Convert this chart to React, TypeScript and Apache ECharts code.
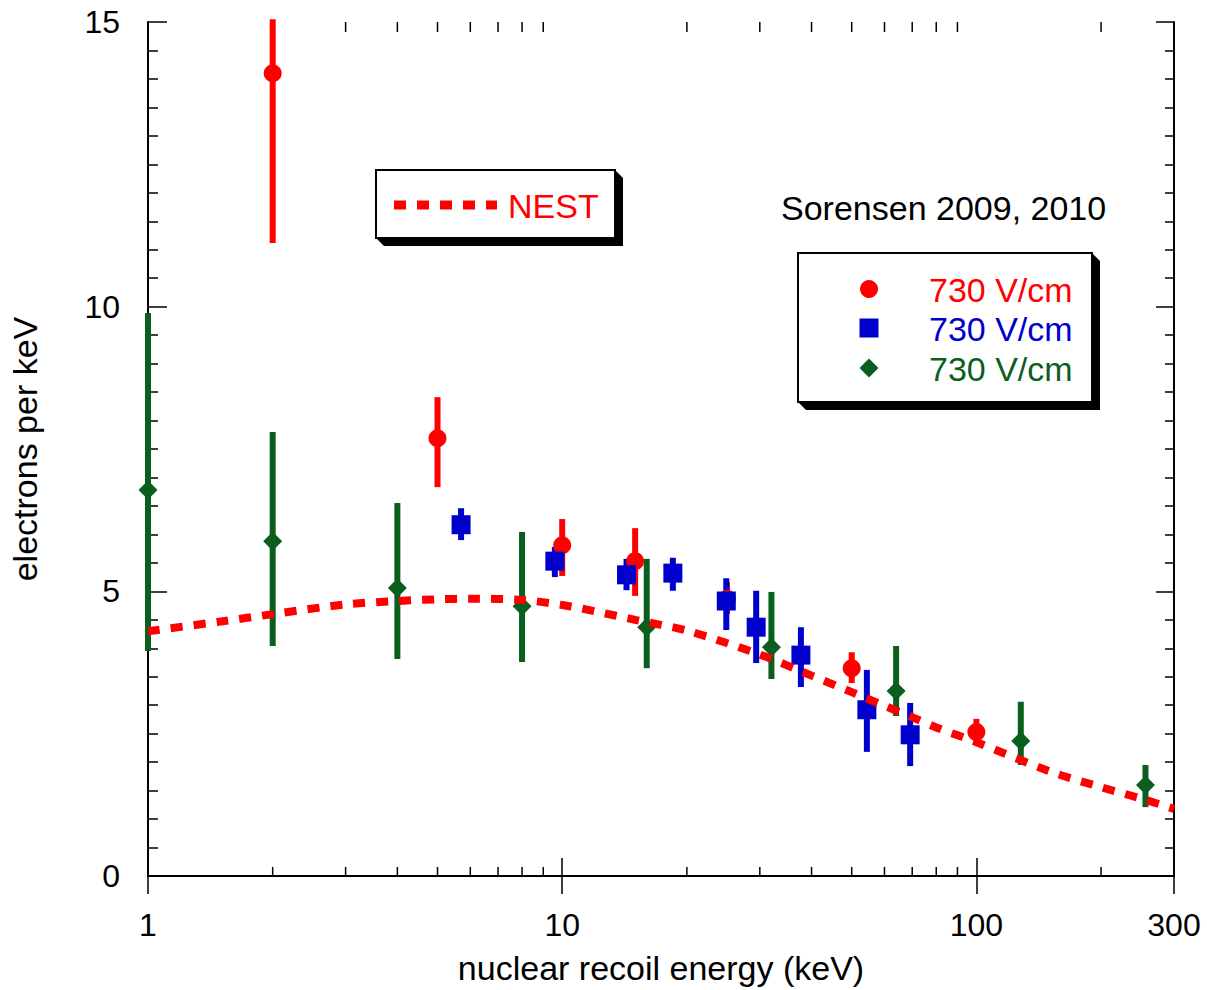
import React, { useEffect, useRef } from 'react';
import * as echarts from 'echarts';

// ---- axes ----
const X_MIN = 1;
const X_MAX = 300;
const Y_MIN = 0;
const Y_MAX = 15;
const Y_STEP = 5;
const xMinorTicks = [2, 3, 4, 5, 6, 7, 8, 9, 20, 30, 40, 50, 60, 70, 80, 90, 200];

// ---- NEST model curve ----
const nestX = [1, 1.5, 2, 3, 4, 5, 6, 8, 10, 12, 15, 20, 30, 40, 50, 60, 70, 80, 100, 150, 200, 250, 300];
const nestY = [4.30, 4.47, 4.60, 4.77, 4.83, 4.86, 4.87, 4.85, 4.76, 4.65, 4.50, 4.31, 3.89, 3.52, 3.23, 2.99, 2.79, 2.61, 2.35, 1.84, 1.56, 1.36, 1.18];

// ---- red circles ----
const redX = [2, 5, 10, 15, 25, 50, 100];
const redY = [14.1, 7.69, 5.81, 5.53, 4.87, 3.65, 2.53];
const redLo = [11.12, 6.83, 5.27, 4.92, 4.6, 3.39, 2.34];
const redHi = [15.05, 8.41, 6.27, 6.11, 5.16, 3.93, 2.76];

// ---- blue squares ----
const blueX = [5.7, 9.6, 14.3, 18.5, 24.9, 29.4, 37.7, 54.4, 69.2];
const blueY = [6.17, 5.53, 5.29, 5.32, 4.83, 4.37, 3.88, 2.92, 2.48];
const blueLo = [5.9, 5.25, 5.02, 5.01, 4.32, 3.74, 3.32, 2.18, 1.93];
const blueHi = [6.46, 5.78, 5.57, 5.59, 5.23, 5.01, 4.37, 3.62, 3.04];

// ---- green diamonds ----
const greenX = [1, 2, 4, 8, 16, 32, 64, 128, 256];
const greenY = [6.78, 5.88, 5.06, 4.74, 4.37, 4.02, 3.25, 2.37, 1.6];
const greenLo = [3.95, 4.04, 3.81, 3.76, 3.65, 3.46, 2.81, 1.95, 1.21];
const greenHi = [9.89, 7.8, 6.55, 6.04, 5.57, 4.99, 4.04, 3.06, 1.95];

const legendLabels = ['730 V/cm', '730 V/cm', '730 V/cm'];
const nestLabel = 'NEST';
const noteText = 'Sorensen 2009, 2010';
const xTitle = 'nuclear recoil energy (keV)';
const yTitle = 'electrons per keV';

const FONT = '"Liberation Sans", Arial, Helvetica, sans-serif';
const FS = 32;
const FS_TEXT = 34;
const RED = '#ff0000';
const BLUE = '#0000cc';
const GREEN = '#0a5f1f';

function errSeries(xs: number[], lo: number[], hi: number[], color: string) {
  return {
    type: 'custom',
    coordinateSystem: 'cartesian2d',
    silent: true,
    data: xs.map((x, i) => [x, lo[i], hi[i]]),
    encode: { x: 0, y: [1, 2] },
    renderItem: (_p: any, api: any) => {
      const a = api.coord([api.value(0), api.value(1)]);
      const b = api.coord([api.value(0), api.value(2)]);
      return {
        type: 'line',
        shape: { x1: a[0], y1: a[1], x2: b[0], y2: b[1] },
        style: { stroke: color, lineWidth: 6, lineCap: 'butt' },
      };
    },
  };
}

function ptsSeries(xs: number[], ys: number[], color: string, symbol: string, size: number) {
  return {
    type: 'scatter',
    silent: true,
    data: xs.map((x, i) => [x, ys[i]]),
    symbol,
    symbolSize: size,
    itemStyle: { color, opacity: 1 },
  };
}

function shadowBox(x: number, y: number, w: number, h: number, d: number) {
  return [
    {
      type: 'polygon',
      shape: {
        points: [
          [x + w, y],
          [x + w + d, y + d],
          [x + w + d, y + h + d],
          [x + d, y + h + d],
          [x, y + h],
          [x + w, y + h],
        ],
      },
      style: { fill: '#000' },
      z: 100,
    },
    {
      type: 'rect',
      shape: { x, y, width: w, height: h },
      style: { fill: '#fff', stroke: '#000', lineWidth: 2 },
      z: 101,
    },
  ];
}

export default function App() {
  const ref = useRef<HTMLDivElement>(null);
  useEffect(() => {
    if (!ref.current) return;
    const chart = echarts.init(ref.current, null, { renderer: 'svg' });
    const tickStyle = { color: '#000', width: 1.5 };
    const labelStyle = { color: '#000', fontSize: FS, fontFamily: FONT, lineHeight: FS };
    const nameStyle = { color: '#000', fontSize: FS_TEXT, fontFamily: FONT, lineHeight: FS_TEXT };
    const option: any = {
      animation: false,
      backgroundColor: '#fff',
      textStyle: { fontFamily: FONT },
      grid: { left: 148, right: 33, top: 22, bottom: 114, containLabel: false, outerBoundsMode: 'none' },
      xAxis: [
        {
          type: 'log',
          logBase: 10,
          min: X_MIN,
          max: X_MAX,
          position: 'bottom',
          axisLine: { show: true, lineStyle: { color: '#000', width: 2 } },
          axisTick: { show: true, inside: true, length: 18, lineStyle: tickStyle },
          axisLabel: { ...labelStyle, margin: 33 },
          splitLine: { show: false },
          name: xTitle,
          nameLocation: 'middle',
          nameGap: 75,
          nameTextStyle: { ...nameStyle },
        },
        {
          type: 'log',
          logBase: 10,
          min: X_MIN,
          max: X_MAX,
          position: 'top',
          axisLine: { show: true, lineStyle: { color: '#000', width: 2 } },
          axisTick: { show: true, inside: true, length: 18, lineStyle: tickStyle },
          axisLabel: { show: false },
          splitLine: { show: false },
        },
      ],
      yAxis: [
        {
          type: 'value',
          min: Y_MIN,
          max: Y_MAX,
          interval: Y_STEP,
          position: 'left',
          axisLine: { show: true, lineStyle: { color: '#000', width: 2 } },
          axisTick: { show: true, inside: true, length: 19, lineStyle: tickStyle },
          minorTick: { show: true, splitNumber: 10, length: 10, lineStyle: tickStyle },
          axisLabel: { ...labelStyle, margin: 28 },
          splitLine: { show: false },
          minorSplitLine: { show: false },
          name: yTitle,
          nameLocation: 'middle',
          nameGap: 106,
          nameRotate: 90,
          nameTextStyle: { ...nameStyle },
        },
        {
          type: 'value',
          min: Y_MIN,
          max: Y_MAX,
          interval: Y_STEP,
          position: 'right',
          axisLine: { show: true, lineStyle: { color: '#000', width: 2 } },
          axisTick: { show: true, inside: true, length: 18, lineStyle: tickStyle },
          minorTick: { show: true, splitNumber: 10, length: 9, lineStyle: tickStyle },
          axisLabel: { show: false },
          splitLine: { show: false },
          minorSplitLine: { show: false },
        },
      ],
      series: [
        {
          type: 'custom',
          coordinateSystem: 'cartesian2d',
          silent: true,
          data: xMinorTicks.map((v) => [v, Y_MIN]),
          encode: { x: 0, y: 1 },
          renderItem: (_p: any, api: any) => {
            const v = api.value(0);
            const b = api.coord([v, Y_MIN]);
            const t = api.coord([v, Y_MAX]);
            return {
              type: 'group',
              children: [
                { type: 'line', shape: { x1: b[0], y1: b[1], x2: b[0], y2: b[1] - 9 }, style: { stroke: '#000', lineWidth: 1.5 } },
                { type: 'line', shape: { x1: t[0], y1: t[1], x2: t[0], y2: t[1] + 10 }, style: { stroke: '#000', lineWidth: 1.5 } },
              ],
            };
          },
        },
        {
          type: 'line',
          silent: true,
          data: nestX.map((x, i) => [x, nestY[i]]),
          showSymbol: false,
          smooth: 0.3,
          lineStyle: { color: RED, width: 8, type: [12, 11], cap: 'butt' },
        },
        errSeries(redX, redLo, redHi, RED),
        ptsSeries(redX, redY, RED, 'circle', 18),
        errSeries(blueX, blueLo, blueHi, BLUE),
        ptsSeries(blueX, blueY, BLUE, 'rect', 19),
        errSeries(greenX, greenLo, greenHi, GREEN),
        ptsSeries(greenX, greenY, GREEN, 'diamond', 19),
      ],
      graphic: [
        ...shadowBox(376, 170, 239, 68, 8),
        {
          type: 'line',
          shape: { x1: 394, y1: 205, x2: 497, y2: 205 },
          style: { stroke: RED, lineWidth: 9, lineDash: [12, 11], lineCap: 'butt' },
          z: 102,
        },
        {
          type: 'text',
          x: 508,
          y: 206,
          style: { text: nestLabel, fill: RED, font: `${FS_TEXT}px ${FONT}`, verticalAlign: 'middle', align: 'left' },
          z: 102,
        },
        {
          type: 'text',
          x: 781,
          y: 208,
          style: { text: noteText, fill: '#000', font: `${FS_TEXT}px ${FONT}`, verticalAlign: 'middle', align: 'left' },
          z: 102,
        },
        ...shadowBox(798, 253, 294, 149, 8),
        { type: 'circle', shape: { cx: 869, cy: 289, r: 9 }, style: { fill: RED }, z: 102 },
        { type: 'rect', shape: { x: 859.5, y: 318.5, width: 19, height: 19 }, style: { fill: BLUE }, z: 102 },
        {
          type: 'polygon',
          shape: { points: [[869, 358.5], [878.5, 368], [869, 377.5], [859.5, 368]] },
          style: { fill: GREEN },
          z: 102,
        },
        ...[RED, BLUE, GREEN].map((c, i) => ({
          type: 'text',
          x: 929,
          y: [290, 329, 369][i],
          style: { text: legendLabels[i], fill: c, font: `${FS_TEXT}px ${FONT}`, verticalAlign: 'middle', align: 'left' },
          z: 102,
        })),
      ],
    };
    chart.setOption(option);
    return () => chart.dispose();
  }, []);
  return (
    <div
      ref={ref}
      style={{ position: 'fixed', left: 0, top: 0, width: 1207, height: 990, background: '#fff' }}
    />
  );
}
